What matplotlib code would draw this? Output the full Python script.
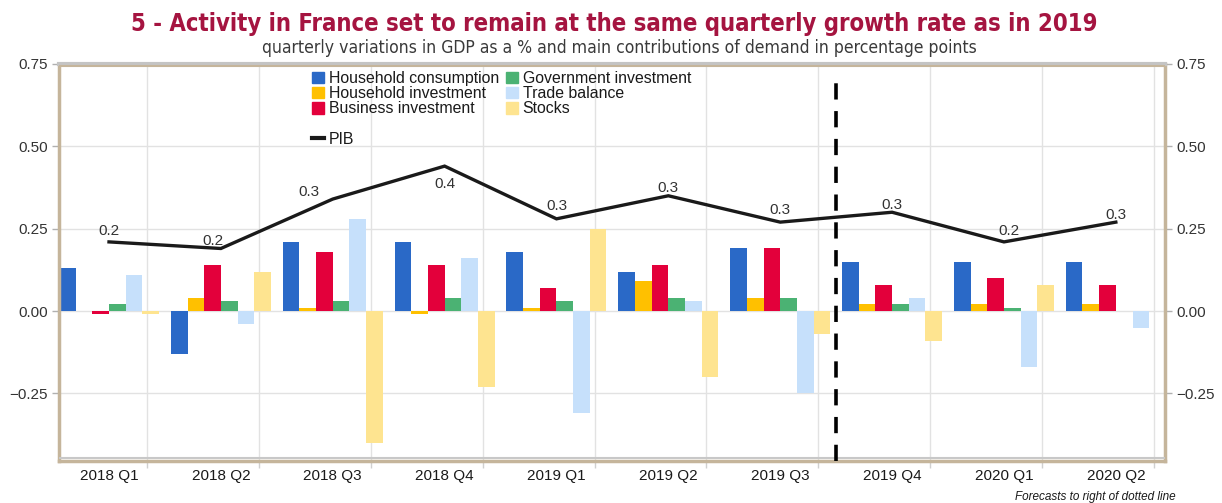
import numpy as np
import matplotlib
matplotlib.use("Agg")
import matplotlib.pyplot as plt
from matplotlib.patches import Patch
from matplotlib.lines import Line2D

quarters = ["2018 Q1", "2018 Q2", "2018 Q3", "2018 Q4", "2019 Q1",
            "2019 Q2", "2019 Q3", "2019 Q4", "2020 Q1", "2020 Q2"]

household_consumption = [0.13, -0.13, 0.21, 0.21, 0.18, 0.12, 0.19, 0.15, 0.15, 0.15]
household_investment = [0.00, 0.04, 0.01, -0.01, 0.01, 0.09, 0.04, 0.02, 0.02, 0.02]
business_investment = [-0.01, 0.14, 0.18, 0.14, 0.07, 0.14, 0.19, 0.08, 0.10, 0.08]
government_investment = [0.02, 0.03, 0.03, 0.04, 0.03, 0.04, 0.04, 0.02, 0.01, 0.00]
trade_balance = [0.11, -0.04, 0.28, 0.16, -0.31, 0.03, -0.25, 0.04, -0.17, -0.05]
stocks = [-0.01, 0.12, -0.40, -0.23, 0.25, -0.20, -0.07, -0.09, 0.08, 0.00]
pib = [0.21, 0.19, 0.34, 0.44, 0.28, 0.35, 0.27, 0.30, 0.21, 0.27]

series = [
    ("Household consumption", household_consumption, "#2a69c7"),
    ("Household investment", household_investment, "#ffc000"),
    ("Business investment", business_investment, "#e3003b"),
    ("Government investment", government_investment, "#4bb273"),
    ("Trade balance", trade_balance, "#c6e0fb"),
    ("Stocks", stocks, "#fee490"),
]

# where each PIB value label sits relative to its point (pixels)
label_offsets = [(0, 11), (-8, 7), (-24, 7), (0, -18), (0, 13),
                 (0, 8), (0, 12), (0, 7), (5, 11), (0, 7)]

plt.rcParams["font.family"] = ["Liberation Sans", "DejaVu Sans"]
plt.rcParams["axes.unicode_minus"] = True

fig = plt.figure(figsize=(12.22, 5.03), dpi=100)
ax = fig.add_axes([0.048, 0.0835, 0.9054, 0.7893])

x = np.arange(len(quarters))
n = len(series)
group_w = 0.894
bw = group_w / n

for k, (name, vals, col) in enumerate(series):
    ax.bar(x - group_w / 2 + bw * (k + 0.5), vals, bw, color=col,
           label=name, zorder=2, linewidth=0)

ax.plot(x, pib, color="#1a1a1a", lw=2.4, zorder=4, solid_joinstyle="miter")
for xi, v, (dx, dy) in zip(x, pib, label_offsets):
    ax.annotate(f"{round(v, 1):.1f}", (xi, v), xytext=(dx * 0.72, dy * 0.72),
                textcoords="offset points", ha="center", va="center",
                fontsize=11, color="#333333", zorder=5)

# forecast separator
ax.plot([6.5, 6.5], [-0.455, 0.72], color="black", lw=2.6,
        dashes=(4.5, 3.2), zorder=5)

ax.set_xlim(-0.45, 9.44)
ax.set_ylim(-0.455, 0.75)

ax.set_yticks([-0.25, 0, 0.25, 0.5, 0.75])
ax.set_yticklabels(["\u22120.25", "0.00", "0.25", "0.50", "0.75"])
ax.tick_params(axis="y", which="both", left=True, right=True,
               labelleft=True, labelright=True, length=5, width=1,
               color="#b0b0b0", labelsize=11, labelcolor="#333333", pad=3)

ax.set_xticks(x)
ax.set_xticklabels(quarters)
ax.set_xticks(x + 0.34, minor=True)
ax.tick_params(axis="x", which="major", length=0, labelsize=11,
               labelcolor="#1a1a1a", pad=6)
ax.tick_params(axis="x", which="minor", length=5, width=1, color="#d0d0d0")

ax.grid(False)
for yv in [-0.25, 0, 0.25, 0.5]:
    ax.axhline(yv, color="#e2e2e2", lw=1, zorder=1)
for xv in x + 0.34:
    ax.axvline(xv, color="#e2e2e2", lw=1, zorder=1)

tan = "#c5b59b"
for side in ["left", "right", "bottom"]:
    ax.spines[side].set_color(tan)
    ax.spines[side].set_linewidth(2.5)
ax.spines["top"].set_color("#c4c4c4")
ax.spines["top"].set_linewidth(3)
ax.axhline(-0.447, color="#c8c8c8", lw=1.5, zorder=3)
ax.axhline(0.743, color=tan, lw=1.5, zorder=3)

# legend: bar series in two columns, PIB on its own row below
blank = Patch(facecolor="none", edgecolor="none", label=" ")
handles = [
    Patch(color=series[0][2], label=series[0][0]),
    Patch(color=series[1][2], label=series[1][0]),
    Patch(color=series[2][2], label=series[2][0]),
    blank,
    Line2D([], [], color="#1a1a1a", lw=3, label="PIB"),
    Patch(color=series[3][2], label=series[3][0]),
    Patch(color=series[4][2], label=series[4][0]),
    Patch(color=series[5][2], label=series[5][0]),
    blank,
    blank,
]
fig.legend(handles=handles, labels=[h.get_label() for h in handles],
           ncol=2, loc="upper left", bbox_to_anchor=(0.2475, 0.878),
           frameon=False, fontsize=11.4, handlelength=0.75, handleheight=0.75,
           handletextpad=0.3, labelspacing=0.02, columnspacing=0.45,
           borderpad=0.1, labelcolor="#1a1a1a")

fig.text(0.5025, 0.953, "5 - Activity in France set to remain at the same quarterly growth rate as in 2019",
         ha="center", va="center", fontsize=17.1, fontweight="bold",
         fontstretch="condensed", color="#a51440", family=["DejaVu Sans"])
fig.text(0.5065, 0.905, "quarterly variations in GDP as a % and main contributions of demand in percentage points",
         ha="center", va="center", fontsize=12.6, color="#3a3a3a",
         fontstretch="condensed", family=["DejaVu Sans"])
fig.text(0.962, 0.012, "Forecasts to right of dotted line", ha="right",
         va="center", fontsize=8.5, style="italic", color="#1a1a1a")

fig.savefig("out.png", dpi=100)
